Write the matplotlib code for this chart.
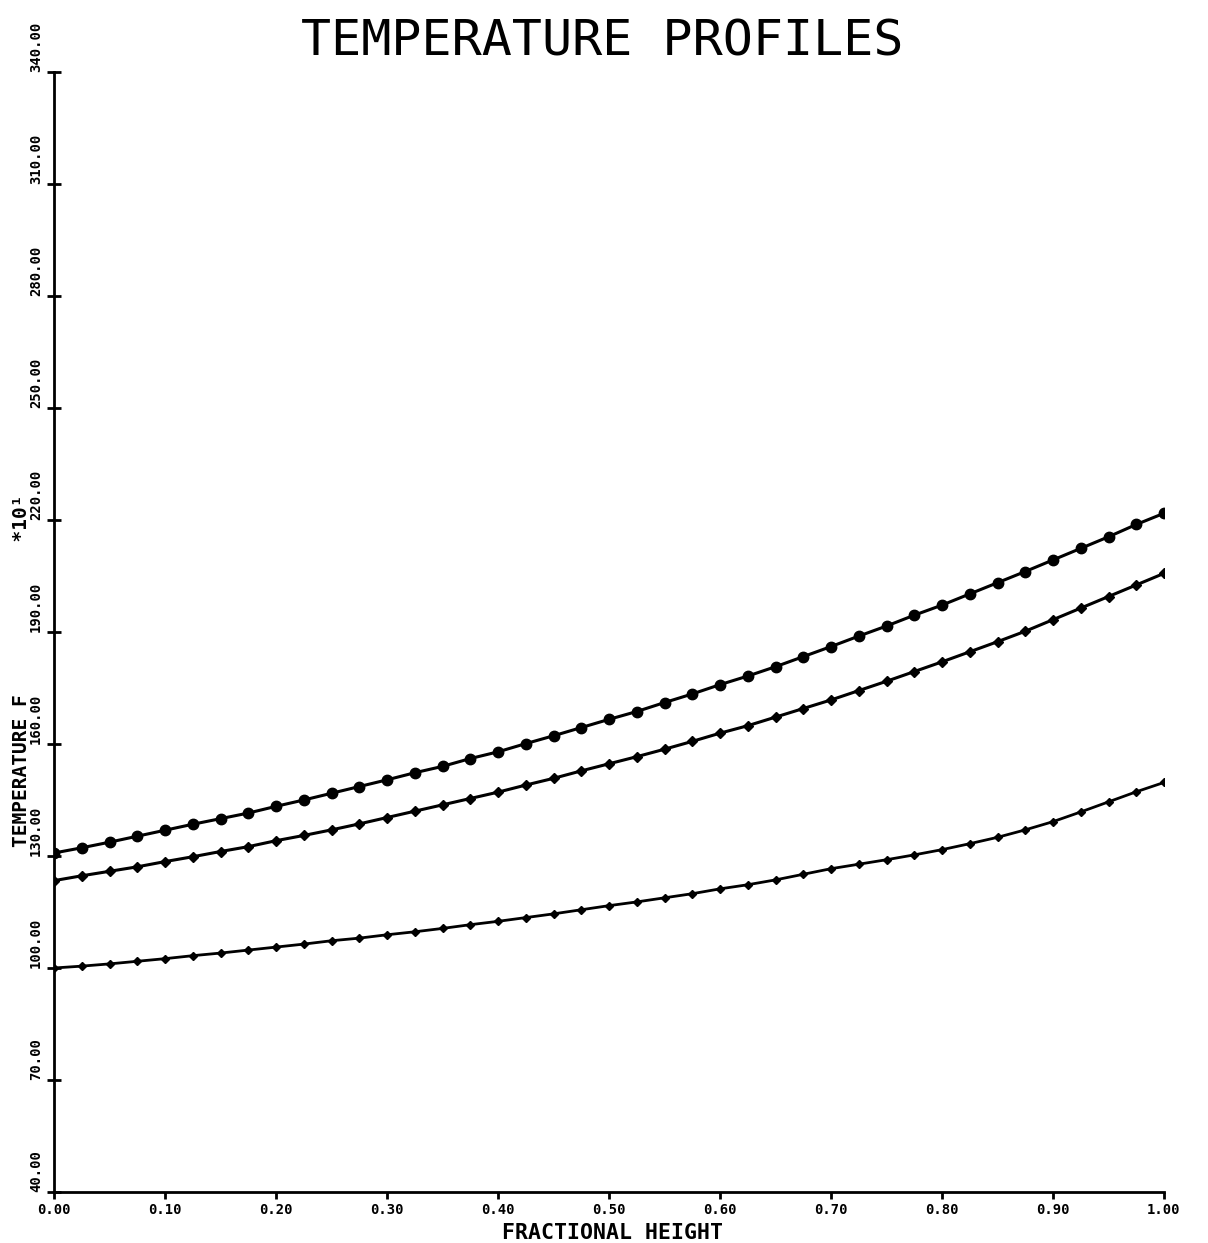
import numpy as np
import matplotlib
matplotlib.use('Agg')
import matplotlib.pyplot as plt

plt.rcParams['font.family'] = ['DejaVu Sans Mono']

# Fractional height positions (41 stations)
height = [0.000, 0.025, 0.050, 0.075, 0.100, 0.125, 0.150, 0.175, 0.200, 0.225,
          0.250, 0.275, 0.300, 0.325, 0.350, 0.375, 0.400, 0.425, 0.450, 0.475,
          0.500, 0.525, 0.550, 0.575, 0.600, 0.625, 0.650, 0.675, 0.700, 0.725,
          0.750, 0.775, 0.800, 0.825, 0.850, 0.875, 0.900, 0.925, 0.950, 0.975,
          1.000]

# Temperature profiles (F * 10^1)
temp_top = [130.8, 132.2, 133.7, 135.3, 136.9, 138.5, 140.0, 141.5, 143.3, 145.0,
            146.8, 148.6, 150.4, 152.3, 154.0, 156.1, 157.9, 160.1, 162.2, 164.4,
            166.6, 168.7, 171.1, 173.4, 175.9, 178.2, 180.7, 183.4, 186.1, 188.9,
            191.6, 194.5, 197.2, 200.2, 203.2, 206.2, 209.3, 212.4, 215.5, 218.8,
            221.8]

temp_mid = [123.4, 124.7, 125.9, 127.1, 128.5, 129.8, 131.2, 132.5, 134.1, 135.5,
            137.0, 138.6, 140.3, 142.0, 143.7, 145.4, 147.1, 149.0, 150.8, 152.8,
            154.7, 156.6, 158.6, 160.7, 162.9, 164.9, 167.2, 169.5, 171.8, 174.3,
            176.8, 179.4, 182.0, 184.7, 187.4, 190.2, 193.3, 196.4, 199.5, 202.6,
            205.7]

temp_bot = [100.0, 100.5, 101.1, 101.8, 102.5, 103.3, 104.0, 104.8, 105.6, 106.4,
            107.3, 108.0, 108.9, 109.7, 110.6, 111.6, 112.5, 113.5, 114.5, 115.6,
            116.7, 117.7, 118.8, 119.9, 121.2, 122.3, 123.6, 125.1, 126.6, 127.8,
            129.0, 130.3, 131.7, 133.3, 135.0, 137.0, 139.2, 141.8, 144.5, 147.2,
            149.7]

y_ticks = [40, 70, 100, 130, 160, 190, 220, 250, 280, 310, 340]
x_ticks = [0.0, 0.1, 0.2, 0.3, 0.4, 0.5, 0.6, 0.7, 0.8, 0.9, 1.0]

fig = plt.figure(figsize=(12.08, 12.43), dpi=100)
ax = fig.add_axes([54 / 1208, 51 / 1243, 1110 / 1208, 1120 / 1243])

ax.plot(height, temp_top, color='black', lw=2.2, marker='o', ms=7.5)
ax.plot(height, temp_mid, color='black', lw=2.2, marker='D', ms=5)
ax.plot(height, temp_bot, color='black', lw=2.0, marker='D', ms=4.5)

ax.set_xlim(0, 1)
ax.set_ylim(40, 340)

ax.spines['top'].set_visible(False)
ax.spines['right'].set_visible(False)
ax.spines['left'].set_linewidth(2)
ax.spines['bottom'].set_linewidth(2)

ax.set_xticks(x_ticks)
ax.set_xticklabels(['%.2f' % v for v in x_ticks], fontsize=10, fontweight='bold')
ax.tick_params(axis='x', direction='out', length=5, width=2, pad=3)

# y tick labels drawn rotated, starting at the tick and reading upward
ax.set_yticks(y_ticks)
ax.set_yticklabels([])
ax.tick_params(axis='y', direction='inout', length=10, width=2)
for v in y_ticks:
    ax.text(-0.016, v, '%.2f' % v, rotation=90, ha='center', va='bottom',
            fontsize=10, fontweight='bold', transform=ax.get_yaxis_transform())

ax.text(-0.029, 0.465, 'TEMPERATURE F             *10\u00b9', rotation=90,
        ha='center', va='center', fontsize=14, fontweight='bold',
        transform=ax.transAxes)

fig.text(612 / 1208, 1 - 1233 / 1243, 'FRACTIONAL HEIGHT', ha='center', va='center',
         fontsize=15.5, fontweight='bold')

fig.text(602 / 1208, 1 - 41 / 1243, 'TEMPERATURE PROFILES', ha='center', va='center',
         fontsize=36)

fig.savefig('out.png', dpi=100)
